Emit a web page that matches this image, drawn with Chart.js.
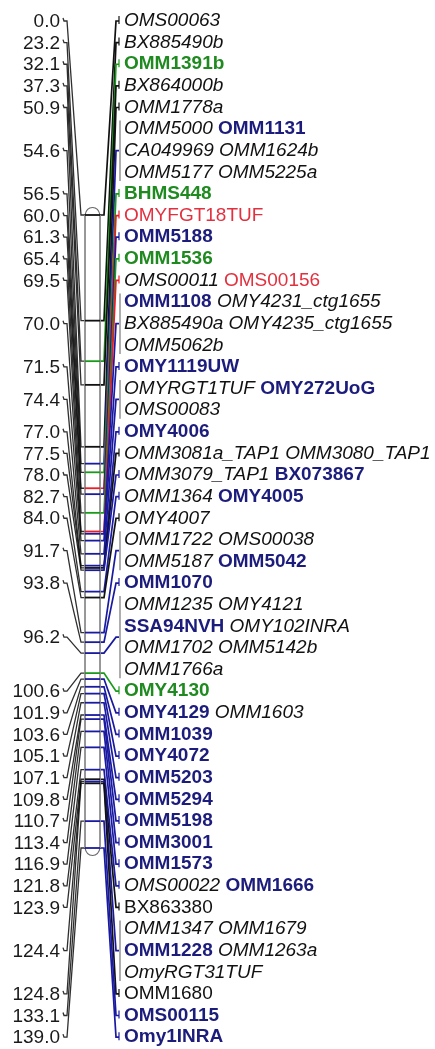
<!DOCTYPE html>
<html><head><meta charset="utf-8">
<script src="https://cdn.jsdelivr.net/npm/chart.js@4.4.0/dist/chart.umd.min.js"></script>
<style>html,body{margin:0;padding:0;background:#fff;}#wrap{width:435px;height:1049px;}</style>
</head><body><div id="wrap"><canvas id="c" width="435" height="1049"></canvas></div>
<script>
// ---- data ----
const positionsCM = [0.0,23.2,32.1,37.3,50.9,54.6,56.5,60.0,61.3,65.4,69.5,70.0,71.5,74.4,77.0,77.5,78.0,82.7,84.0,91.7,93.8,96.2,100.6,101.9,103.6,105.1,107.1,109.8,110.7,113.4,116.9,121.8,123.9,124.4,124.8,133.1,139.0];
const positionLabels = ["0.0","23.2","32.1","37.3","50.9","54.6","56.5","60.0","61.3","65.4","69.5","70.0","71.5","74.4","77.0","77.5","78.0","82.7","84.0","91.7","93.8","96.2","100.6","101.9","103.6","105.1","107.1","109.8","110.7","113.4","116.9","121.8","123.9","124.4","124.8","133.1","139.0"];
const markerRows = [
 [["OMS00063"]],
 [["BX885490b"]],
 [["OMM1391b"]],
 [["BX864000b"]],
 [["OMM1778a"]],
 [["OMM5000","OMM1131"],["CA049969","OMM1624b"],["OMM5177","OMM5225a"]],
 [["BHMS448"]],
 [["OMYFGT18TUF"]],
 [["OMM5188"]],
 [["OMM1536"]],
 [["OMS00011","OMS00156"]],
 [["OMM1108","OMY4231_ctg1655"],["BX885490a","OMY4235_ctg1655"],["OMM5062b"]],
 [["OMY1119UW"]],
 [["OMYRGT1TUF","OMY272UoG"],["OMS00083"]],
 [["OMY4006"]],
 [["OMM3081a_TAP1","OMM3080_TAP1"]],
 [["OMM3079_TAP1","BX073867"]],
 [["OMM1364","OMY4005"]],
 [["OMY4007"]],
 [["OMM1722","OMS00038"],["OMM5187","OMM5042"]],
 [["OMM1070"]],
 [["OMM1235","OMY4121"],["SSA94NVH","OMY102INRA"],["OMM1702","OMM5142b"],["OMM1766a"]],
 [["OMY4130"]],
 [["OMY4129","OMM1603"]],
 [["OMM1039"]],
 [["OMY4072"]],
 [["OMM5203"]],
 [["OMM5294"]],
 [["OMM5198"]],
 [["OMM3001"]],
 [["OMM1573"]],
 [["OMS00022","OMM1666"]],
 [["BX863380"]],
 [["OMM1347","OMM1679"],["OMM1228","OMM1263a"],["OmyRGT31TUF"]],
 [["OMM1680"]],
 [["OMS00115"]],
 [["Omy1INRA"]]
];
const blueMarkers = ["OMM1131","OMM5188","OMM1108","OMY1119UW","OMY272UoG","OMY4006","BX073867","OMY4005","OMM5042","OMM1070","SSA94NVH","OMY4129","OMM1039","OMY4072","OMM5203","OMM5294","OMM5198","OMM3001","OMM1573","OMM1666","OMM1228","OMS00115","Omy1INRA"];
const greenMarkers = ["OMM1391b","BHMS448","OMM1536","OMY4130"];
const redMarkers = ["OMYFGT18TUF","OMS00156"];
const uprightMarkers = ["BX863380","OMM1680"];
const chromosomeLengthCM = 139.0;

// ---- layout / style ----
const W = 435, H = 1049;
const ROW0_PX = 21, ROW_STEP = 21.62;
const CHR_TOP_PX = 215, CHR_BOT_PX = 848;
const CHR_L = 85, CHR_R = 100;
const COLORS = {blue:"#1c1c7c", green:"#1f8a1f", red:"#e2303f", black:"#111"};
const LINE_COLORS = {blue:"#1a1aa0", green:"#1a9a1a", red:"#ee1c24", black:"#111"};
const FONT = "'Liberation Sans', Arial, sans-serif";
const FS = 19;

function markerClass(m){
  if (blueMarkers.includes(m)) return "blue";
  if (greenMarkers.includes(m)) return "green";
  if (redMarkers.includes(m)) return "red";
  return "black";
}
function groupClass(g){
  const all = g.flat().map(markerClass);
  if (all.includes("red")) return "red";
  if (all.includes("green")) return "green";
  if (all.includes("blue")) return "blue";
  return "black";
}
const groupRowStart = [];
{ let r = 0; markerRows.forEach(g => { groupRowStart.push(r); r += g.length; }); }

const pxPerCM = (CHR_BOT_PX - CHR_TOP_PX) / chromosomeLengthCM;

const datasets = [];
positionsCM.forEach((cm, i) => {
  datasets.push({type:'line', xAxisID:'x', yAxisID:'cm',
    data:[{x:CHR_L,y:cm},{x:CHR_R,y:cm}],
    borderColor: LINE_COLORS[groupClass(markerRows[i])], borderWidth:1.8,
    pointRadius:0, fill:false});
});
[CHR_L, CHR_R].forEach(xx => datasets.push({type:'line', xAxisID:'x', yAxisID:'cm',
  data:[{x:xx,y:0},{x:xx,y:chromosomeLengthCM}], borderColor:"#8a8a8a", borderWidth:1, pointRadius:0}));

const mapPlugin = {
  id:'mapPlugin',
  beforeDatasetsDraw(chart){
    const ctx = chart.ctx, sx = chart.scales.x, sc = chart.scales.cm, sr = chart.scales.row;
    ctx.save();
    ctx.strokeStyle = "#666"; ctx.lineWidth = 1.2;
    const xl = sx.getPixelForValue(CHR_L), xr = sx.getPixelForValue(CHR_R);
    const yt = sc.getPixelForValue(0), yb = sc.getPixelForValue(chromosomeLengthCM);
    ctx.beginPath(); ctx.moveTo(xl, yt); ctx.bezierCurveTo(xl+2, yt-10, xr-2, yt-10, xr, yt); ctx.stroke();
    ctx.beginPath(); ctx.moveTo(xl, yb); ctx.bezierCurveTo(xl+2, yb+10, xr-2, yb+10, xr, yb); ctx.stroke();
    // left connectors
    ctx.strokeStyle = "rgba(10,10,10,0.85)"; ctx.lineWidth = 1.3;
    positionsCM.forEach((cm, i) => {
      const rowMid = groupRowStart[i] + (markerRows[i].length - 1) / 2;
      const yl = sr.getPixelForValue(rowMid), yc = sc.getPixelForValue(cm);
      ctx.beginPath();
      ctx.moveTo(sx.getPixelForValue(63), yl - 3);
      ctx.lineTo(sx.getPixelForValue(64), yl);
      ctx.lineTo(sx.getPixelForValue(67), yl);
      ctx.lineTo(sx.getPixelForValue(81), yc);
      ctx.lineTo(xl, yc);
      ctx.stroke();
    });
    // right connectors
    positionsCM.forEach((cm, i) => {
      const g = markerRows[i];
      const rowMid = groupRowStart[i] + (g.length - 1) / 2;
      const yl = sr.getPixelForValue(rowMid), yc = sc.getPixelForValue(cm);
      ctx.strokeStyle = LINE_COLORS[groupClass(g)]; ctx.lineWidth = 1.7;
      ctx.beginPath();
      ctx.moveTo(xr, yc);
      ctx.lineTo(sx.getPixelForValue(104), yc);
      ctx.lineTo(sx.getPixelForValue(116), yl);
      ctx.lineTo(sx.getPixelForValue(119), yl);
      ctx.stroke();
      const bx = sx.getPixelForValue(120);
      ctx.lineWidth = 1.2;
      if (g.length > 1) {
        ctx.strokeStyle = "#777";
        ctx.beginPath();
        ctx.moveTo(bx, sr.getPixelForValue(groupRowStart[i] - 0.4));
        ctx.lineTo(bx, sr.getPixelForValue(groupRowStart[i] + g.length - 1 + 0.4));
        ctx.stroke();
      } else {
        ctx.beginPath();
        ctx.moveTo(sx.getPixelForValue(119), yl - 5);
        ctx.lineTo(sx.getPixelForValue(119), yl + 3);
        ctx.stroke();
      }
    });
    ctx.restore();
  },
  afterDatasetsDraw(chart){
    const ctx = chart.ctx, sx = chart.scales.x, sr = chart.scales.row;
    ctx.save();
    ctx.textBaseline = "middle";
    ctx.font = FS + "px " + FONT; ctx.fillStyle = "#1a1a1a"; ctx.textAlign = "right";
    positionLabels.forEach((t, i) => {
      const rowMid = groupRowStart[i] + (markerRows[i].length - 1) / 2;
      ctx.fillText(t, sx.getPixelForValue(60), sr.getPixelForValue(rowMid) + 1);
    });
    ctx.textAlign = "left";
    markerRows.forEach((g, i) => {
      g.forEach((row, k) => {
        let x = sx.getPixelForValue(124);
        const y = sr.getPixelForValue(groupRowStart[i] + k);
        row.forEach((m) => {
          const cls = markerClass(m);
          let f;
          if (cls === "blue" || cls === "green") f = "bold " + FS + "px " + FONT;
          else if (cls === "red" || uprightMarkers.includes(m)) f = FS + "px " + FONT;
          else f = "italic " + FS + "px " + FONT;
          ctx.font = f; ctx.fillStyle = COLORS[cls];
          ctx.fillText(m, x, y);
          x += ctx.measureText(m).width;
          ctx.font = FS + "px " + FONT;
          x += ctx.measureText(" ").width;
        });
      });
    });
    ctx.restore();
  }
};

new Chart(document.getElementById('c'), {
  type:'scatter',
  data:{datasets},
  options:{
    responsive:false, animation:false, devicePixelRatio:1,
    layout:{padding:0},
    plugins:{legend:{display:false}, tooltip:{enabled:false}},
    scales:{
      x:{type:'linear', display:false, min:0, max:W},
      row:{type:'linear', display:false, reverse:true, position:'left',
           min:-ROW0_PX/ROW_STEP, max:(H-ROW0_PX)/ROW_STEP},
      cm:{type:'linear', display:false, reverse:true, position:'left',
          min:-CHR_TOP_PX/pxPerCM, max:(H-CHR_TOP_PX)/pxPerCM}
    }
  },
  plugins:[mapPlugin]
});
</script></body></html>
